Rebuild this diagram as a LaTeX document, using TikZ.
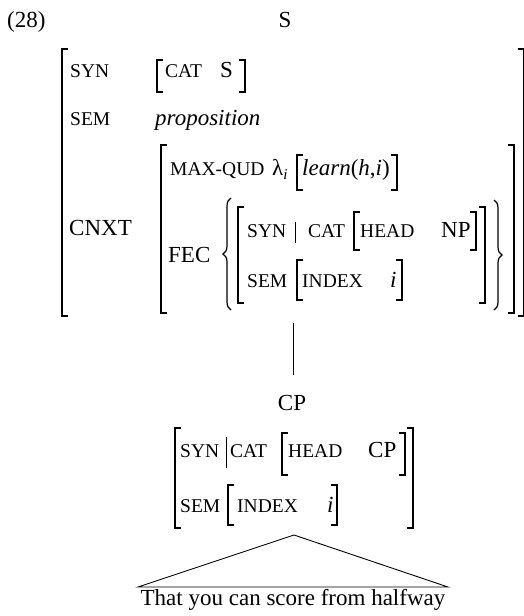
\documentclass[tikz,border=0pt]{standalone}
\usepackage{fontspec}
\setmainfont{Liberation Serif}
\usetikzlibrary{decorations.pathreplacing}
\newcommand\smc[1]{{\fontsize{19.5}{19.5}\selectfont #1}}
\newcommand\lbr[3]{\draw[brk] (#1+6,#2) -- (#1,#2) -- (#1,#3) -- (#1+6,#3);}
\newcommand\rbr[3]{\draw[brk] (#1-6,#2) -- (#1,#2) -- (#1,#3) -- (#1-6,#3);}
\tikzset{
  txt/.style={inner sep=0pt, anchor=base west, font=\fontsize{23}{23}\selectfont},
  ctxt/.style={inner sep=0pt, anchor=base, font=\fontsize{23}{23}\selectfont},
  brk/.style={line width=1.2pt, line cap=butt, line join=miter},
  brc/.style={line width=1.2pt, decorate, decoration={brace, amplitude=8pt}},
  edge/.style={line width=0.9pt}
}
\begin{document}
\begin{tikzpicture}[x=1pt,y=-1pt]
\useasboundingbox (0,0) rectangle (523,616);
% label and root
\node[txt] (ex) at (7,27) {(28)};
\node[ctxt] (S) at (285,27) {S};
% outer AVM
\lbr{62}{49}{316}
\rbr{523.5}{49}{316}
\node[txt] (syn1) at (70,77) {\smc{SYN}};
\lbr{157}{60}{92}
\node[txt] (cat1) at (165,77) {\smc{CAT}};
\node[txt] (catS) at (220,77) {S};
\rbr{245}{60}{92}
\node[txt] (sem1) at (70,125) {\smc{SEM}};
\node[txt] (prop) at (155,125) {\itshape proposition};
\node[txt] (cnxt) at (69,235) {CNXT};
% CNXT value
\lbr{161}{145}{313}
\rbr{514}{145}{313}
\node[txt] (mq) at (170,175) {\smc{MAX-QUD}};
\node[txt] (lam) at (272,175) {λ\raisebox{-4.5pt}{\fontsize{15}{15}\selectfont\itshape i}};
\lbr{297}{155}{190}
\node[txt] (learn) at (302,175) {\itshape learn\upshape(\itshape h\upshape,\itshape i\upshape)};
\rbr{397}{155}{190}
\node[txt] (fec) at (168,262) {FEC};
\draw[brc] (231,310) -- (231,198);
\draw[brc] (494,200) -- (494,310);
% FEC element
\lbr{238}{207}{303}
\rbr{485}{207}{303}
\node[txt] (syn2) at (247,237) {\smc{SYN}};
\draw[edge] (295,222) -- (295,243);
\node[txt] (cat2) at (308,237) {\smc{CAT}};
\lbr{354}{212}{250}
\node[txt] (head2) at (360,237) {\smc{HEAD}};
\node[txt] (np) at (441,237) {NP};
\rbr{476}{212}{250}
\node[txt] (sem2) at (247,287) {\smc{SEM}};
\lbr{297}{260}{300}
\node[txt] (idx2) at (302,287) {\smc{INDEX}};
\node[txt] (i2) at (390,287) {\itshape i};
\rbr{402}{260}{300}
% link
\coordinate (top) at (293,323);
\node[ctxt] (CP) at (292,410) {CP};
\draw[edge] (top) -- (293,375);
% CP AVM
\lbr{175}{428}{528}
\rbr{413}{428}{528}
\node[txt] (syn3) at (180,457) {\smc{SYN}};
\draw[edge] (226,437) -- (226,468);
\node[txt] (cat3) at (230,457) {\smc{CAT}};
\lbr{282}{433}{475}
\node[txt] (head3) at (288,457) {\smc{HEAD}};
\node[txt] (cp3) at (368,457) {CP};
\rbr{405}{433}{475}
\node[txt] (sem3) at (180,512) {\smc{SEM}};
\lbr{228}{485}{525}
\node[txt] (idx3) at (237,512) {\smc{INDEX}};
\node[txt] (i3) at (327,512) {\itshape i};
\rbr{337}{485}{525}
% triangle
\coordinate (apex) at (294,535);
\node[ctxt] (sent) at (293,605) {That you can score from halfway};
\draw[edge] (138,587) -- (apex) -- (448,587) -- cycle;
\end{tikzpicture}
\end{document}
